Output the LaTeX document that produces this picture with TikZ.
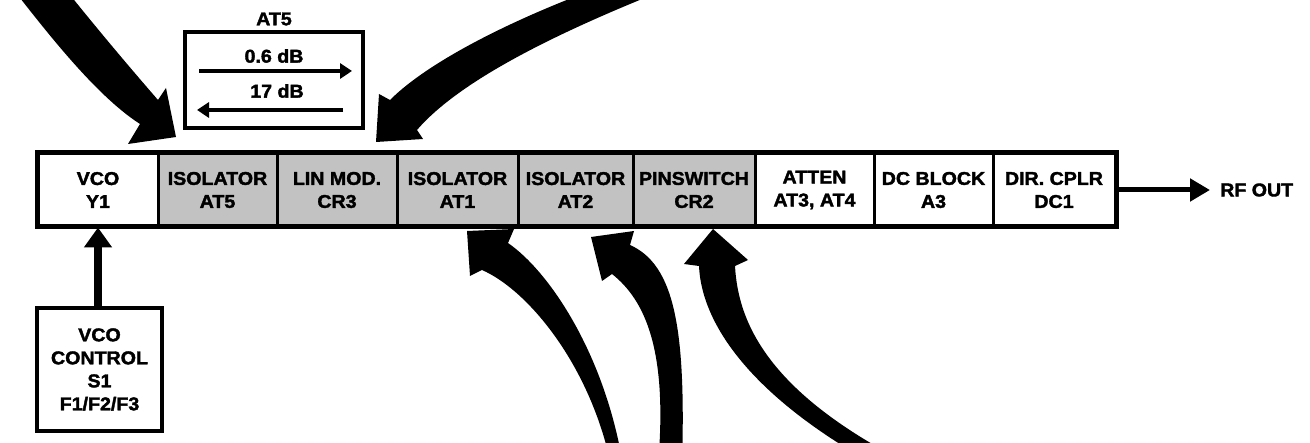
\documentclass[tikz,border=0pt]{standalone}
\usepackage{fontspec}
\setmainfont{Liberation Sans}[FakeStretch=1.06,BoldFeatures={FakeBold=2}]
\usetikzlibrary{arrows.meta}
\newcommand\dgfont{\fontsize{18.5}{23}\selectfont\bfseries}
\begin{document}
\begin{tikzpicture}[x=1pt,y=-1pt,
  blk/.style={draw,line width=3pt,minimum width=#1,minimum height=72pt,inner sep=0pt,align=center,font=\dgfont},
  shaded/.style={fill=black!24},
  txt/.style={inner sep=0pt,font=\dgfont},
  bigarrow/.style={fill=black},
  flow/.style={line width=4.5pt,-{Triangle[length=12pt,width=15pt]}},
  ctrlarrow/.style={line width=8pt,-{Triangle[length=20pt,width=27pt]}},
  outarrow/.style={line width=5pt,-{Triangle[length=20pt,width=22pt]}}]
\useasboundingbox (0,0) rectangle (1310,443);
\clip (0,0) rectangle (1310,443);
% big hand-drawn arrows
\fill[bigarrow] (6,-20) .. controls (45,30) and (95,95) .. (140,124) -- (128,144) -- (176,137) -- (166,88) -- (158,100) .. controls (125,62) and (94,25) .. (58,-20) -- cycle;
\fill[bigarrow] (690,-20) .. controls (560,30) and (460,80) .. (417,130) -- (423,139) -- (376,142) -- (379,94) -- (390,100) .. controls (430,60) and (520,15) .. (620,-20) -- cycle;
\fill[bigarrow] (611,465) .. controls (590,365) and (528,290) .. (482,270) -- (470,276) -- (467,231) -- (514,229) -- (508,243) .. controls (550,272) and (605,355) .. (623,465) -- cycle;
\fill[bigarrow] (658,465) .. controls (668,350) and (645,300) .. (612,274) -- (602,281) -- (591,237) -- (634,231) -- (630,245) .. controls (675,265) and (686,330) .. (682,465) -- cycle;
\fill[bigarrow] (870,462) .. controls (760,400) and (702,330) .. (699,266) -- (684,264) -- (713,229) -- (748,260) -- (735,266) .. controls (738,320) and (765,390) .. (905,462) -- cycle;
% main strip
\node[blk=120pt] (vco) at (98,190) {VCO\\Y1};
\node[blk=119pt,shaded] (iso5) at (217.5,190) {ISOLATOR\\AT5};
\node[blk=120pt,shaded] (lin) at (337,190) {LIN MOD.\\CR3};
\node[blk=121pt,shaded] (iso1) at (457.5,190) {ISOLATOR\\AT1};
\node[blk=115pt,shaded] (iso2) at (575.5,190) {ISOLATOR\\AT2};
\node[blk=122pt,shaded] (pin) at (694,190) {PINSWITCH\\CR2};
\node[blk=119pt] (atten) at (814.5,190) {ATTEN\\AT3, AT4};
\node[blk=119pt] (dcb) at (933.5,190) {DC BLOCK\\A3};
\node[blk=122pt] (dir) at (1054,190) {DIR. CPLR\\DC1};
\draw[line width=4pt] (vco.north west) rectangle (dir.south east);
% RF out
\coordinate (rftip) at (1210,190);
\draw[outarrow] (dir.east) -- (rftip);
\node[txt,anchor=west] (rfout) at (1220,190) {RF OUT};
% VCO control
\node[draw,line width=3.5pt,minimum width=125pt,minimum height=123pt,inner sep=0pt,align=center,font=\dgfont] (ctrl) at (99.5,369.5) {VCO\\CONTROL\\S1\\F1/F2/F3};
\draw[ctrlarrow] (ctrl.north -| vco.south) -- (vco.south);
% AT5 detail box
\node[draw,line width=3.5pt,minimum width=178pt,minimum height=96pt] (at5box) at (274,80) {};
\node[txt] (at5lbl) at (274,19) {AT5};
\node[txt] (fwd) at (274,56) {0.6 dB};
\node[txt] (rev) at (277,91) {17 dB};
\coordinate (fa) at (199,71);
\coordinate (fb) at (352,71);
\coordinate (ra) at (343,110);
\coordinate (rb) at (197,110);
\draw[flow] (fa) -- (fb);
\draw[flow] (ra) -- (rb);
\end{tikzpicture}
\end{document}
